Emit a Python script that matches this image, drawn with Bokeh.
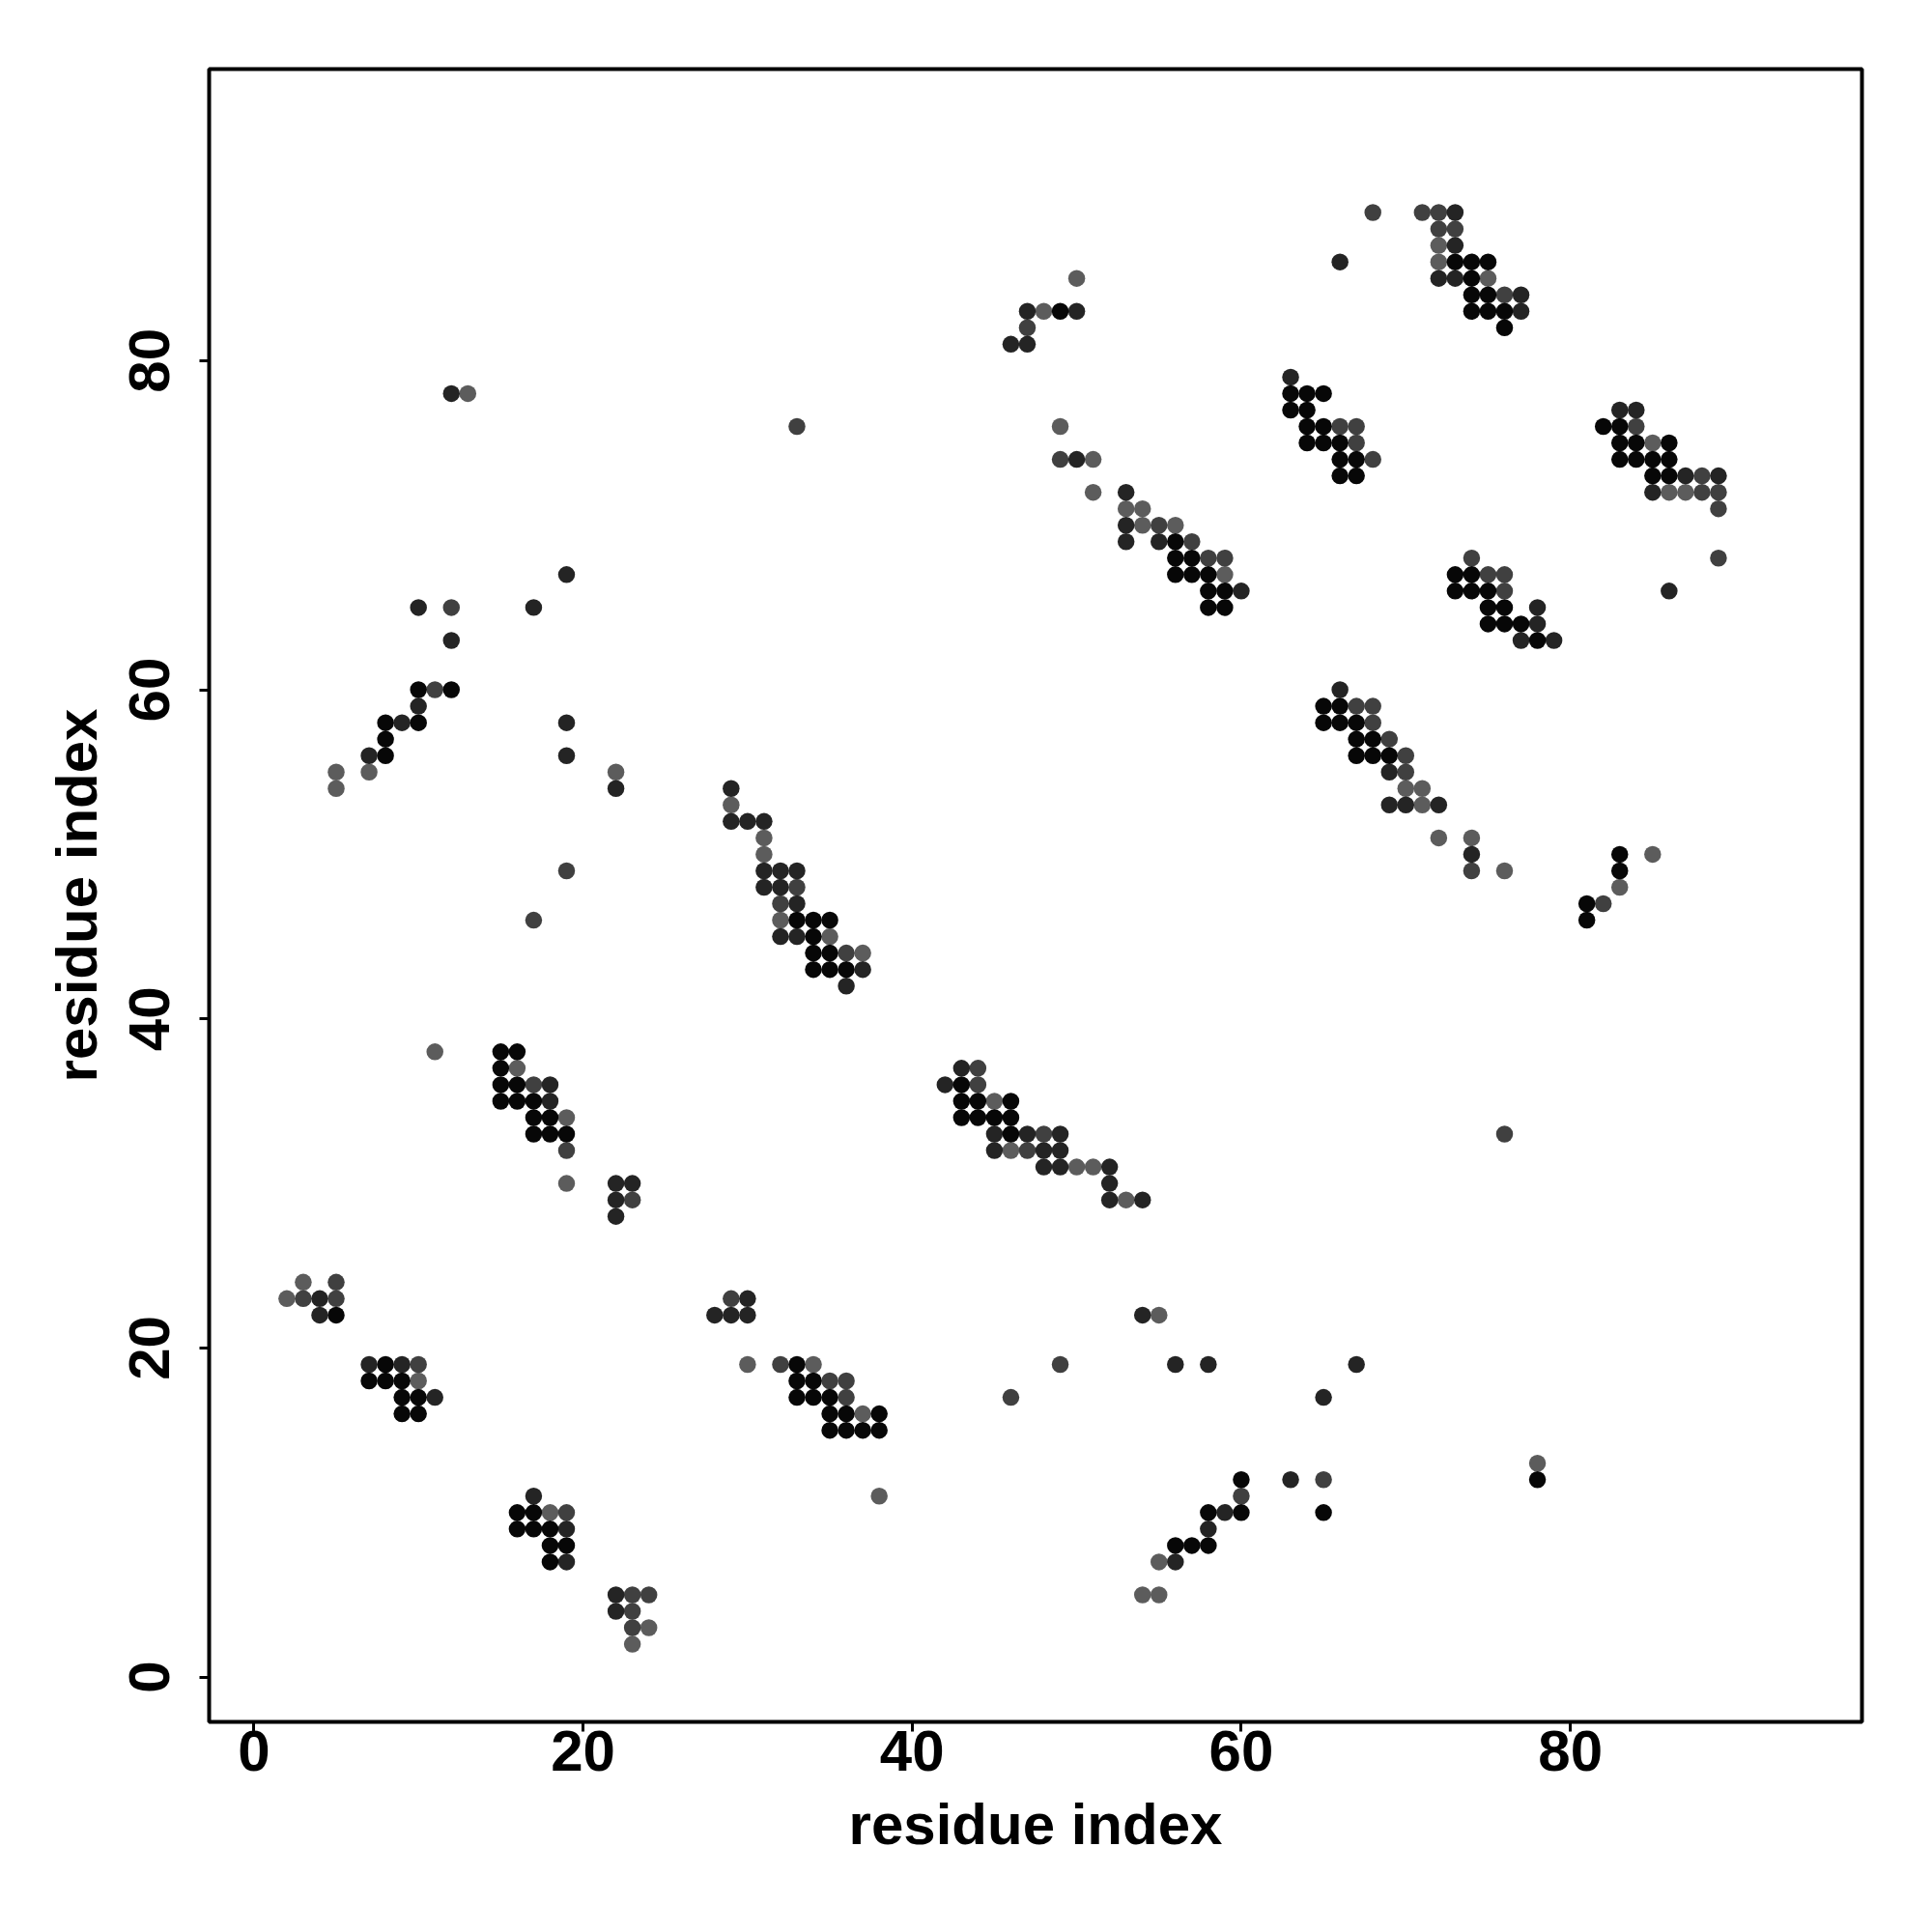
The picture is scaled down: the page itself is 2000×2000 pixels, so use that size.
from bokeh.plotting import figure
from bokeh.models import Range1d, FixedTicker, ColumnDataSource
from bokeh.embed import file_html
from bokeh.resources import INLINE

# ---- data: contact map (residue i, residue j), grouped by contact strength ----
contacts_strongest = [
    (5,22),(8,19),(7,18),(8,18),(9,18),(9,17),(10,17),(9,16),(10,16),
    (16,10),(17,10),(16,9),(17,9),(18,9),(18,8),(19,8),(18,7),
    (15,38),(16,38),(15,37),(15,36),(16,36),(15,35),(16,35),(17,35),(17,34),(18,34),(17,33),(18,33),(19,33),
    (10,60),(12,60),(8,58),(10,58),(8,57),(8,56),
    (33,19),(33,18),(34,18),(33,17),(34,17),(35,17),(35,16),(36,16),(38,16),(35,15),(36,15),(37,15),(38,15),
    (33,46),(34,46),(35,46),(34,45),(34,44),(35,44),(34,43),(35,43),(36,43),
    (43,36),(43,35),(44,35),(46,35),(43,34),(44,34),(45,34),(46,34),(46,33),
    (60,12),(58,10),(60,10),(65,10),(56,8),(57,8),(58,8),
    (49,83),
    (63,78),(64,78),(65,78),(63,77),(64,77),(64,76),(65,76),(64,75),(65,75),(66,75),(66,74),(67,74),(66,73),(67,73),
    (56,69),(56,68),(57,68),(56,67),(57,67),(58,67),(58,66),(59,66),(58,65),(59,65),
    (65,59),(66,59),(65,58),(66,58),(67,58),(67,57),(68,57),(67,56),(68,56),(69,56),
    (73,67),(74,67),(73,66),(74,66),(75,66),(75,65),(76,65),(75,64),(76,64),(77,64),(78,63),
    (73,86),(74,86),(75,86),(74,85),(74,84),(75,84),(74,83),(75,83),(76,83),(76,82),
    (82,76),(83,76),(83,75),(84,75),(86,75),(83,74),(84,74),(85,74),(86,74),(85,73),(86,73),
    (83,50),(83,49),(81,47),(81,46),(78,12),
]
contacts_strong = [
    (4,23),(4,22),(7,19),(9,19),(11,17),(17,11),(19,9),(19,7),(22,5),(22,4),
    (18,36),(18,35),(22,30),(23,30),(22,29),(22,28),
    (12,78),(19,67),(10,65),(17,65),(12,63),(10,59),(9,58),(19,58),(7,56),(19,56),(22,54),
    (30,23),(28,22),(29,22),(30,22),
    (29,54),(29,52),(30,52),(31,52),(31,49),(32,49),(33,49),(31,48),(32,48),(33,47),(32,45),(33,45),(37,43),(36,42),
    (43,37),(42,36),(45,33),(47,33),(49,33),(45,32),(48,32),(49,32),(48,31),(49,31),(52,31),(52,30),(52,29),(54,29),
    (54,22),(56,19),(58,19),(67,19),(65,17),(63,12),(59,10),(58,9),(56,7),
    (47,83),(50,83),(46,81),(47,81),(66,86),(63,79),(50,74),(53,72),(53,70),(53,69),(55,69),(60,66),
    (66,60),(69,55),(69,53),(70,53),(72,53),(74,50),
    (78,65),(78,64),(77,63),(79,63),
    (73,89),(73,87),(72,85),(73,85),(77,84),(77,83),
    (83,77),(84,77),(87,73),(89,73),(85,72),(86,66),
]
contacts_medium = [
    (5,24),(3,23),(5,23),(10,19),(19,10),(23,5),(24,5),(23,4),(23,3),
    (19,49),(17,46),(17,36),(23,29),(19,32),
    (12,65),(11,60),
    (29,23),(32,19),(35,18),(36,18),(36,17),(46,17),
    (33,48),(32,47),(36,44),
    (44,37),(44,36),(48,33),(47,32),
    (49,19),(65,12),(60,11),
    (47,82),(68,89),(66,76),(67,76),(67,75),(68,74),(49,74),
    (55,70),(57,69),(58,68),(59,68),
    (67,59),(68,59),(68,58),(69,57),(70,56),(70,55),(74,49),
    (74,68),(75,67),(76,67),(76,66),
    (71,89),(72,89),(72,88),(73,88),(76,84),
    (84,76),(88,73),(88,72),(89,72),(89,71),(89,68),
    (82,47),(76,33),(33,76),
]
contacts_weak = [
    (3,24),(2,23),(10,18),(18,10),(24,3),(23,2),
    (11,38),(16,37),(19,34),(19,30),
    (13,78),(5,55),(7,55),(22,55),(5,54),
    (30,19),(34,19),(37,16),(38,11),
    (29,53),(31,51),(31,50),(32,46),(35,45),(37,44),
    (45,35),(46,32),(50,31),(51,31),(53,29),
    (55,22),(55,7),(54,5),(55,5),
    (50,85),(48,83),(49,76),(51,74),(51,72),(53,71),(54,71),(54,70),(56,70),(59,67),
    (70,54),(71,54),(71,53),(72,51),(74,51),(76,49),
    (72,87),(72,86),(75,85),
    (85,75),(86,72),(87,72),
    (83,48),(85,50),(78,13),
]
tick_values = [0, 20, 40, 60, 80]
axis_title = "residue index"

groups = [
    (contacts_weak, "#5c5c5c"),
    (contacts_medium, "#404040"),
    (contacts_strong, "#242424"),
    (contacts_strongest, "#070707"),
]

FONT = "Liberation Sans"

p = figure(frame_width=1711, frame_height=1711,
           x_range=Range1d(-2.72, 97.72), y_range=Range1d(-2.72, 97.72),
           output_backend="svg", toolbar_location=None,
           min_border_left=216, min_border_top=71,
           min_border_right=50, min_border_bottom=200,
           background_fill_color="white", border_fill_color="white")

for pts, col in groups:
    src = ColumnDataSource(dict(x=[a for a, b in pts], y=[b for a, b in pts]))
    p.scatter("x", "y", source=src, size=17.5, fill_color=col,
              line_color=None, marker="circle")

p.grid.visible = False
p.outline_line_color = "black"
p.outline_line_width = 4

for ax in (p.xaxis[0], p.yaxis[0]):
    ax.ticker = FixedTicker(ticks=tick_values)
    ax.axis_line_color = None
    ax.major_tick_line_color = "black"
    ax.major_tick_line_width = 3
    ax.major_tick_out = 10
    ax.major_tick_in = 0
    ax.minor_tick_line_color = None
    ax.major_label_text_font = FONT
    ax.major_label_text_font_style = "bold"
    ax.major_label_text_font_size = "60px"
    ax.major_label_text_color = "black"
    ax.axis_label = axis_title
    ax.axis_label_text_font = FONT
    ax.axis_label_text_font_style = "bold"
    ax.axis_label_text_font_size = "60px"
    ax.axis_label_text_color = "black"
    ax.axis_label_standoff = 19

p.xaxis.major_label_standoff = -1
p.yaxis.major_label_standoff = 31
p.yaxis.major_label_orientation = "vertical"

open("out.html", "w").write(file_html(p, INLINE))
